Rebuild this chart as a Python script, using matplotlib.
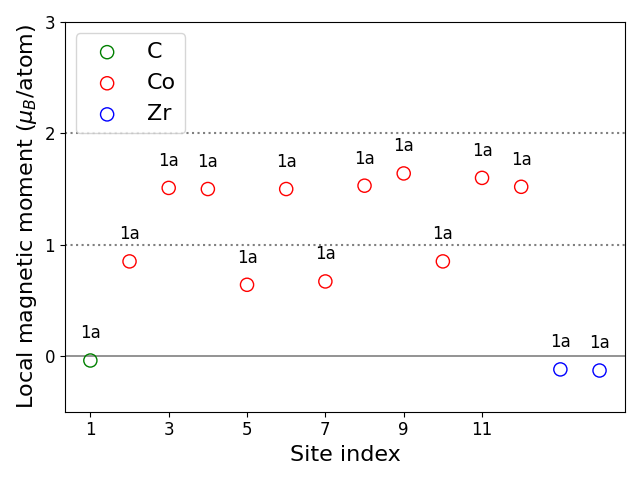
import matplotlib
matplotlib.use("Agg")
import matplotlib.pyplot as plt

# site data
sites = [1, 2, 3, 4, 5, 6, 7, 8, 9, 10, 11, 12, 13, 14]
elements = ["C", "Co", "Co", "Co", "Co", "Co", "Co", "Co", "Co", "Co", "Co", "Co", "Zr", "Zr"]
moments = [-0.04, 0.85, 1.51, 1.50, 0.64, 1.50, 0.67, 1.53, 1.64, 0.85, 1.60, 1.52, -0.12, -0.13]
wyckoff = ["1a"] * 14

species = ["C", "Co", "Zr"]
colors = {"C": "green", "Co": "red", "Zr": "blue"}

fig, ax = plt.subplots(figsize=(6.4, 4.8), dpi=100)

for el in species:
    xs = [s for s, e in zip(sites, elements) if e == el]
    ys = [m for m, e in zip(moments, elements) if e == el]
    ax.scatter(xs, ys, s=90, facecolors="none", edgecolors=colors[el], label=el)

for s, m, w in zip(sites, moments, wyckoff):
    ax.annotate(w, (s, m), xytext=(0, 13), textcoords="offset points",
                ha="center", va="bottom", fontsize=12)

ax.axhline(0, color="gray", lw=1.2, zorder=0)
ax.axhline(1, color="gray", ls=":", lw=1.5, zorder=0)
ax.axhline(2, color="gray", ls=":", lw=1.5, zorder=0)

ax.set_ylim(-0.5, 3)
ax.set_yticks([0, 1, 2, 3])
ax.set_xticks([1, 3, 5, 7, 9, 11])
ax.tick_params(labelsize=12)
ax.set_xlabel("Site index", fontsize=16)
ax.set_ylabel(r"Local magnetic moment ($\mu_B$/atom)", fontsize=16)
ax.legend(fontsize=16, loc="upper left")

fig.tight_layout()
fig.savefig("out.png")
